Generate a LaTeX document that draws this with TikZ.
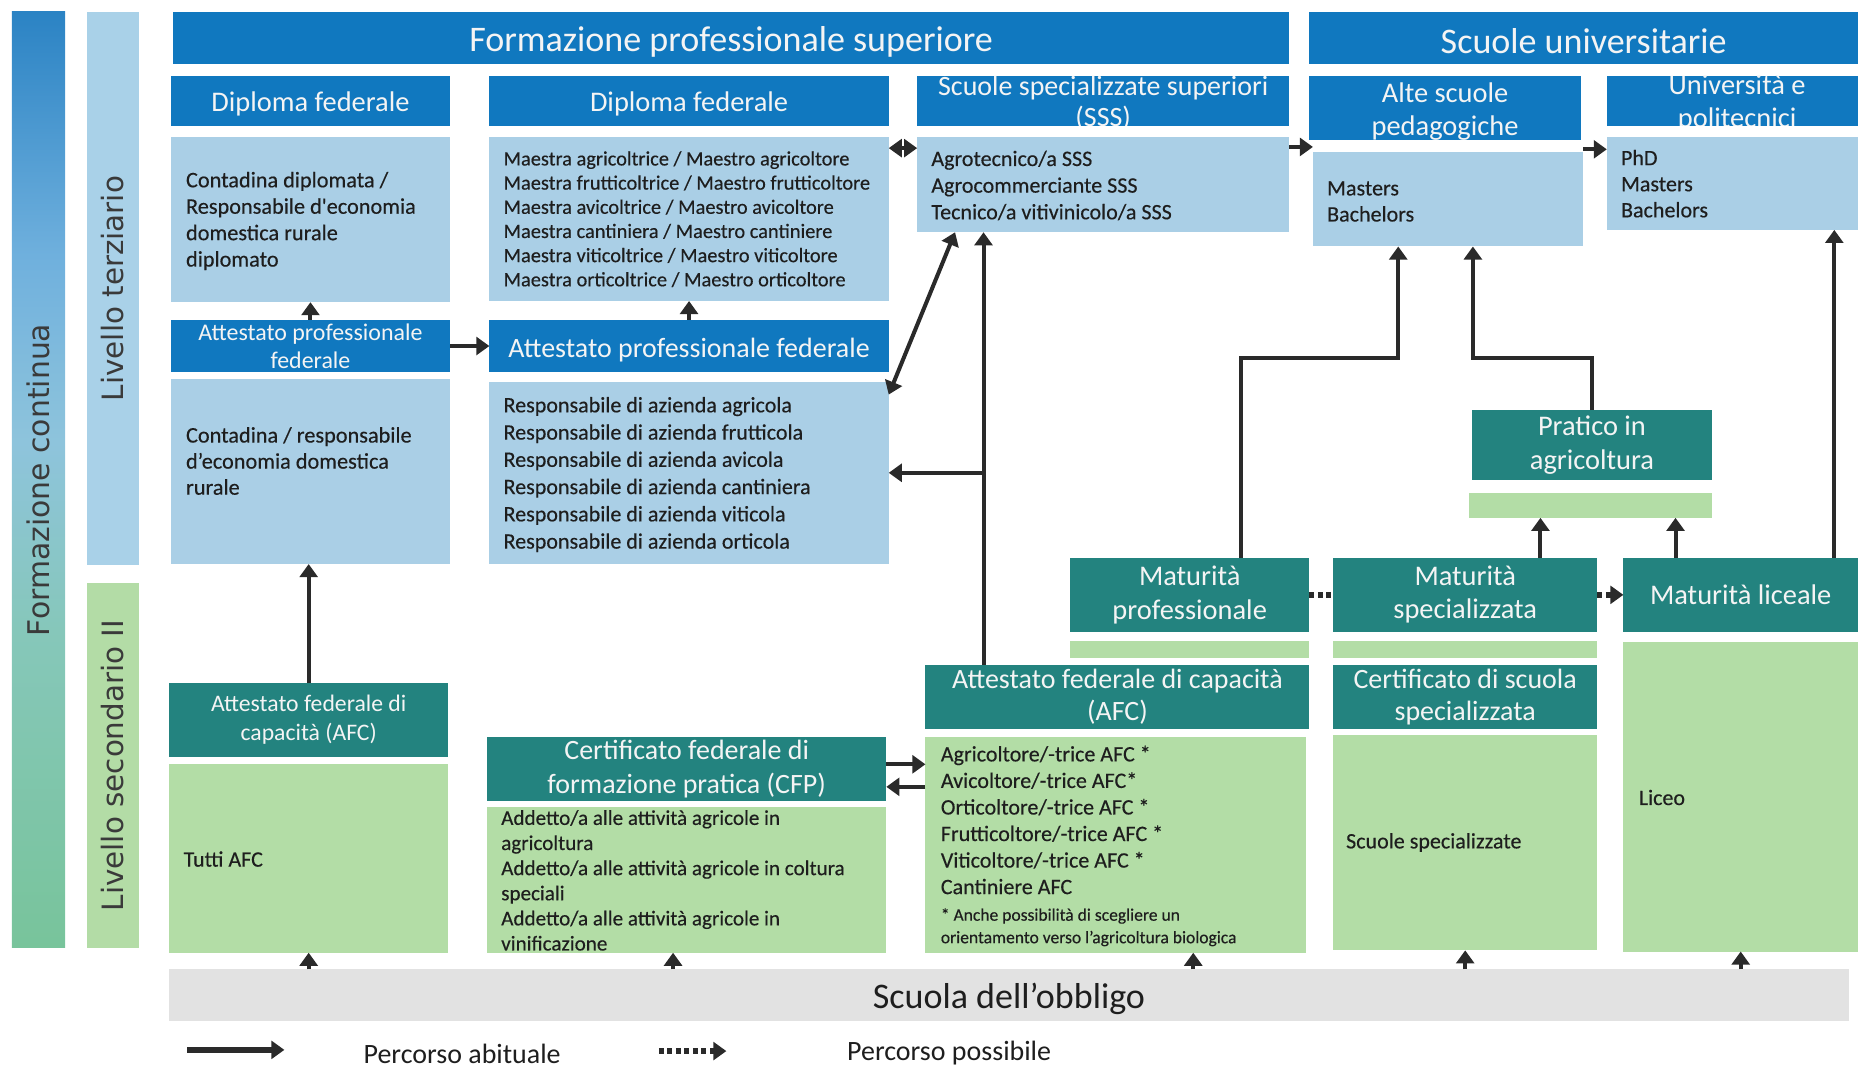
\documentclass[tikz,border=0pt]{standalone}
\usepackage{fontspec}
\setmainfont{Carlito}
\newfontfamily\barfont{DejaVu Sans}
\newfontfamily\bodyfont{Carlito}[FakeBold=0.35]
\usetikzlibrary{arrows.meta}
\definecolor{cblue}{HTML}{1078BF}
\definecolor{clb}{HTML}{AACFE6}
\definecolor{cteal}{HTML}{23837F}
\definecolor{cgreen}{HTML}{B3DDA6}
\definecolor{cgray}{HTML}{E2E2E2}
\definecolor{ctext}{HTML}{1E1E1E}
\definecolor{cbartext}{HTML}{3A3A3A}
\definecolor{carrow}{HTML}{2A2A2A}
\definecolor{chtext}{HTML}{F4F4F4}
\definecolor{cbarT}{HTML}{A9D1E8}
\definecolor{cbarS}{HTML}{B3DCA6}
\definecolor{gA}{HTML}{78C49B}
\definecolor{gB}{HTML}{86C7BA}
\definecolor{gC}{HTML}{8EC4DC}
\definecolor{gD}{HTML}{6FB0DD}
\definecolor{gE}{HTML}{2B83C4}
\pgfdeclareverticalshading{fcshade}{100bp}{color(0bp)=(gA); color(25bp)=(gA); color(42bp)=(gB); color(52bp)=(gC); color(62bp)=(gD); color(75bp)=(gE); color(100bp)=(gE)}
\newcommand\fs[2]{\fontsize{#1}{#2}\selectfont}
\newcommand\low[1]{\raisebox{-1.5pt}[\height][\depth]{#1}}
\newcommand\bx[7]{\node[#2, minimum width={(#5-#3)*0.5pt}, minimum height={(#6-#4)*0.5pt}] (#1) at ({(#3+#5)/2},{(#4+#6)/2}) {#7};}
\begin{document}
\begin{tikzpicture}[x=0.5pt,y=-0.5pt,
  every node/.style={inner sep=0pt, outer sep=0pt},
  hdr/.style={fill=cblue, text=chtext, align=center},
  lbx/.style={fill=clb},
  tbx/.style={fill=cteal, text=chtext, align=center},
  gbx/.style={fill=cgreen},
  body/.style={anchor=west, align=left, text=ctext},
  bartxt/.style={rotate=90, text=cbartext, font=\barfont\fs{12.4}{14}},
  tip/.style={-{Triangle[width=7.5pt,length=5.5pt]}},
  arr/.style={draw=carrow, line width=1.7pt, tip},
  darr/.style={draw=carrow, line width=1.7pt, {Triangle[width=7.5pt,length=5.5pt]}-{Triangle[width=7.5pt,length=5.5pt]}},
  dotline/.style={draw=carrow, line width=2.4pt, dash pattern=on 2pt off 1.6pt},
]
\useasboundingbox (0,0) rectangle (1568,901);

% side bars
\bx{barF}{shading=fcshade}{10}{10}{55}{800}{}
\node[bartxt, font=\barfont\fs{12.6}{14}] (barFt) at (barF.center) {Formazione continua};
\bx{barT}{fill=cbarT}{73}{10}{117}{477}{}
\node[bartxt] (barTt) at (barT.center) {Livello terziario};
\bx{barS}{fill=cbarS}{73}{492}{117}{800}{}
\node[bartxt] (barSt) at (barS.center) {Livello secondario II};

% top headers
\bx{fps}{hdr, font=\fs{15.2}{17}}{146}{10}{1088}{54}{\low{Formazione professionale superiore}}
\bx{su}{hdr, font=\fs{15.2}{17}}{1105}{10}{1568}{54}{\low{Scuole universitarie}}

% second row headers
\bx{dfA}{hdr, font=\fs{12}{14}}{144}{64}{380}{106}{\low{Diploma federale}}
\bx{dfB}{hdr, font=\fs{12}{14}}{413}{64}{750}{106}{\low{Diploma federale}}
\bx{sssH}{hdr}{774}{64}{1088}{106}{}
\begin{scope}
\clip (774,64) rectangle (1088,106);
\node[text=chtext, align=center, font=\fs{11.8}{13}] (sssT) at ([yshift=-1pt]sssH.center) {Scuole specializzate superiori\\(SSS)};
\end{scope}
\bx{aspH}{hdr, font=\fs{12}{14}}{1105}{64}{1334}{118}{\low{Alte scuole}\\\low{pedagogiche}}
\bx{uniH}{hdr}{1356}{64}{1568}{106}{}
\begin{scope}
\clip (1356,64) rectangle (1568,106);
\node[text=chtext, align=center, font=\fs{12}{14}] (uniT) at (1466,87) {Università e\\politecnici};
\end{scope}

% light blue boxes (row 1)
\bx{boxA}{lbx}{144}{116}{380}{255}{}
\node[body, font=\bodyfont\fs{9.4}{11.15}] (tA) at (157,186.5) {Contadina diplomata /\\Responsabile d'economia\\domestica rurale\\diplomato};
\bx{boxB}{lbx}{413}{116}{750}{254}{}
\node[body, font=\bodyfont\fs{8.6}{10.2}] (tB) at (425,185) {Maestra agricoltrice / Maestro agricoltore\\Maestra frutticoltrice / Maestro frutticoltore\\Maestra avicoltrice / Maestro avicoltore\\Maestra cantiniera / Maestro cantiniere\\Maestra viticoltrice / Maestro viticoltore\\Maestra orticoltrice / Maestro orticoltore};
\bx{boxC}{lbx}{774}{116}{1088}{196}{}
\node[body, font=\bodyfont\fs{9.3}{11.25}] (tC) at (786,156.5) {Agrotecnico/a SSS\\Agrocommerciante SSS\\Tecnico/a vitivinicolo/a SSS};
\bx{boxD}{lbx}{1108}{128}{1336}{208}{}
\node[body, font=\bodyfont\fs{9.3}{11}] (tD) at (1120,170) {Masters\\Bachelors};
\bx{boxE}{lbx}{1356}{116}{1568}{194}{}
\node[body, font=\bodyfont\fs{9.3}{11}] (tE) at (1368,155) {PhD\\Masters\\Bachelors};

% attestato professionale federale
\bx{apfA}{hdr, font=\fs{10.1}{12}}{144}{270}{380}{314}{Attestato professionale\\federale}
\bx{apfB}{hdr, font=\fs{11.8}{14}}{413}{270}{750}{314}{\low{Attestato professionale federale}}
\bx{boxF}{lbx}{144}{320}{380}{476}{}
\node[body, font=\bodyfont\fs{9.4}{11}] (tF) at (157,389) {Contadina / responsabile\\d’economia domestica\\rurale};
\bx{boxG}{lbx}{413}{322}{750}{476}{}
\node[body, font=\bodyfont\fs{9.3}{11.5}] (tG) at (425,400.5) {Responsabile di azienda agricola\\Responsabile di azienda frutticola\\Responsabile di azienda avicola\\Responsabile di azienda cantiniera\\Responsabile di azienda viticola\\Responsabile di azienda orticola};

% maturità
\bx{prat}{tbx, font=\fs{12}{14.5}}{1242}{346}{1445}{405}{Pratico in\\agricoltura}
\bx{pratS}{gbx}{1240}{416}{1445}{437}{}
\bx{matP}{tbx, font=\fs{12}{14.5}}{903}{471}{1105}{533}{Maturità\\professionale}
\bx{matPs}{gbx}{903}{541}{1105}{555}{}
\bx{matS}{tbx, font=\fs{12}{14}}{1125}{471}{1348}{533}{Maturità\\specializzata}
\bx{matSs}{gbx}{1125}{541}{1348}{555}{}
\bx{matL}{tbx, font=\fs{12}{14}}{1370}{471}{1568}{533}{Maturità liceale}
\bx{liceo}{gbx}{1370}{542}{1568}{803}{}
\node[body, font=\bodyfont\fs{9.3}{11}] (tL) at (1383,673) {Liceo};

% secondary level
\bx{afcL}{tbx, font=\fs{10}{12}}{143}{576}{378}{639}{Attestato federale di\\capacità (AFC)}
\bx{tutti}{gbx}{143}{645}{378}{804}{}
\node[body, font=\bodyfont\fs{9.3}{11}] (tT) at (155,725) {Tutti AFC};
\bx{cfpH}{tbx, font=\fs{11.8}{14.5}}{411}{622}{748}{676}{Certificato federale di\\formazione pratica (CFP)}
\bx{cfpB}{gbx}{411}{681}{748}{804}{}
\node[body, font=\bodyfont\fs{8.9}{10.6}] (tCFP) at (423,743) {Addetto/a alle attività agricole in\\agricoltura\\Addetto/a alle attività agricole in coltura\\speciali\\Addetto/a alle attività agricole in\\vinificazione};
\bx{afcM}{tbx, font=\fs{11.8}{13.5}}{781}{561}{1105}{615}{Attestato federale di capacità\\(AFC)}
\bx{afcB}{gbx}{781}{622}{1102}{804}{}
\node[body, font=\bodyfont\fs{9.3}{11.2}] (tAFC) at (794,692) {Agricoltore/-trice AFC *\\Avicoltore/-trice AFC*\\Orticoltore/-trice AFC *\\Frutticoltore/-trice AFC *\\Viticoltore/-trice AFC *\\Cantiniere AFC};
\node[body, font=\bodyfont\fs{7.4}{9.5}] (tFoot) at (794,782.5) {* Anche possibilità di scegliere un\\orientamento verso l’agricoltura biologica};
\bx{cssH}{tbx, font=\fs{11.8}{13.5}}{1125}{561}{1348}{615}{Certificato di scuola\\specializzata}
\bx{cssB}{gbx}{1125}{620}{1348}{802}{}
\node[body, font=\bodyfont\fs{9.3}{11}] (tCSS) at (1136,711) {Scuole specializzate};

% compulsory school
\bx{obb}{fill=cgray, font=\fs{15.2}{17}, text=ctext}{143}{818}{1560}{862}{\low{Scuola dell’obbligo}}

% ---- connectors ----
\draw[arr] (apfA.north) -- (apfA.north |- boxA.south);
\draw[arr] (apfB.north) -- (apfB.north |- boxB.south);
\draw[arr] (apfA.east) -- (apfB.west);
\draw[darr] ([yshift=-4.5pt]boxB.north east) -- ([yshift=-4.5pt]boxC.north west);
\draw[arr] ([yshift=-4pt]boxC.north east) -- ([yshift=2pt]boxD.north west);
\draw[arr] ([yshift=-5pt]boxE.north west -| boxD.east) -- ([yshift=-5pt]boxE.north west);
\draw[arr] (afcL.north) -- (afcL.north |- boxF.south);
\draw[darr] ([yshift=-5.5pt]boxG.north east) -- ([xshift=16pt]boxC.south west);
\coordinate (v1) at ([xshift=24.5pt]afcM.north west);
\draw[arr] (v1) -- (v1 |- boxC.south);
\draw[arr] (v1 |- boxG.east) -- (boxG.east);
\coordinate (m1) at ([xshift=72pt]matP.north west);
\coordinate (d1) at ([xshift=36pt]boxD.south west);
\draw[arr] (m1) -- ++(0,-169) -| (d1);
\coordinate (d2) at ([xshift=67.5pt]boxD.south west);
\draw[arr] (prat.north) -- ++(0,-44) -| (d2);
\coordinate (l1) at ([xshift=89pt]matL.north west);
\draw[arr] (l1) -- (l1 |- boxE.south);
\coordinate (s1) at ([xshift=87.5pt]matS.north west);
\draw[arr] (s1) -- (s1 |- pratS.south);
\coordinate (l2) at ([xshift=22pt]matL.north west);
\draw[arr] (l2) -- (l2 |- pratS.south);
\draw[dotline] (matP.east) -- (matS.west);
\draw[dotline, tip] (matS.east) -- (matL.west);
\coordinate (c1) at ([yshift=-11.5pt]cfpH.north east);
\draw[arr] (c1) -- (c1 -| afcB.west);
\coordinate (c2) at ([yshift=-21pt]cfpH.north east);
\draw[arr] (c2 -| afcB.west) -- (c2);
\draw[arr] (tutti.south |- obb.north) -- (tutti.south);
\coordinate (b2) at ([xshift=-5.75pt]cfpB.south);
\draw[arr] (b2 |- obb.north) -- (b2);
\coordinate (b3) at ([xshift=32.75pt]afcB.south);
\draw[arr] (b3 |- obb.north) -- (b3);
\draw[arr] (cssB.south |- obb.north) -- (cssB.south);
\draw[arr] (liceo.south |- obb.north) -- (liceo.south);

% legend
\coordinate (lg1) at (158,886);
\coordinate (lg2) at (240,886);
\draw[arr, line width=2.6pt] (lg1) -- (lg2);
\node[text=ctext, font=\fs{11.8}{14}] (lgT1) at (390,889) {Percorso abituale};
\coordinate (lg3) at (556,887);
\coordinate (lg4) at (613,887);
\draw[dotline, tip] (lg3) -- (lg4);
\node[text=ctext, font=\fs{11.8}{14}] (lgT2) at (801,889) {Percorso possibile};
\end{tikzpicture}
\end{document}
